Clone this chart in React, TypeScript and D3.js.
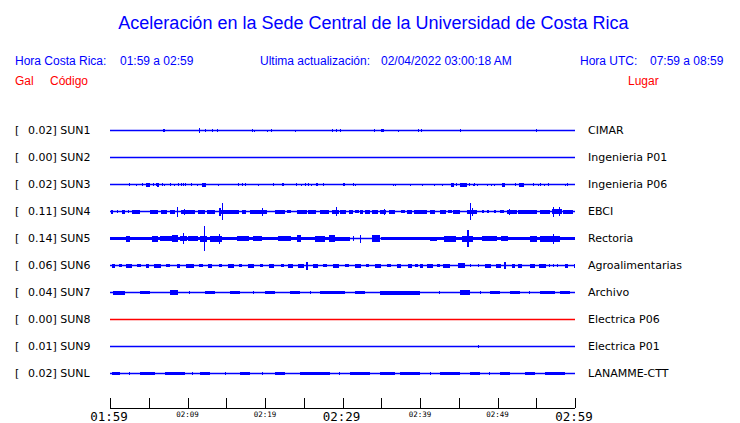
import React from "react";
import * as d3 from "d3";

const TITLE = "Aceleración en la Sede Central de la Universidad de Costa Rica";
const stations = ["SUN1", "SUN2", "SUN3", "SUN4", "SUN5", "SUN6", "SUN7", "SUN8", "SUN9", "SUNL"];
const galValues = ["0.02", "0.00", "0.02", "0.11", "0.14", "0.06", "0.04", "0.00", "0.01", "0.02"];
const places = ["CIMAR", "Ingenieria P01", "Ingenieria P06", "EBCI", "Rectoria", "Agroalimentarias", "Archivo", "Electrica P06", "Electrica P01", "LANAMME-CTT"];
const offline = ["SUN8"];
const tickLabels = ["01:59", "", "02:09", "", "02:19", "", "02:29", "", "02:39", "", "02:49", "", "02:59"];
const majorTicks = ["01:59", "02:29", "02:59"];

// events: [start minute, end minute, half amplitude]
const SUN1 = [[6.8,7.1,1.5],[11.5,11.6,2.5],[12.2,12.3,1.5],[13.2,13.3,1.5],[13.8,13.9,1.5],[18.3,18.4,1.5],[18.6,18.7,1],[20.2,20.3,1],[20.8,20.9,1.5],[23.9,24,1],[28.7,28.8,1.5],[29.2,29.3,1.5],[29.7,29.8,1.5],[34.1,34.2,1.5],[35.0,35.3,1.5],[37.1,37.2,1],[39.8,39.9,1.5],[40.1,40.3,1.5],[45.1,45.2,1.5],[55.0,55.1,1.5]];
const SUN2: number[][] = [];
const SUN3 = [[2.4,2.5,1.5],[3.4,3.5,1],[4.1,4.2,1.5],[4.7,5.2,2],[5.6,5.7,1.5],[5.9,6.0,1.5],[6.1,6.3,2],[6.7,6.8,1.5],[7.0,7.1,1],[7.7,7.8,1.5],[8.3,8.4,1],[8.8,8.9,1.5],[9.1,9.2,1.5],[9.4,9.5,1.5],[9.7,9.8,1.5],[10.4,10.5,1.5],[11.2,11.3,1],[11.9,12.4,2],[13.9,14,1],[16.5,16.6,1.5],[17.0,17.1,1.5],[17.4,17.5,1.5],[19.1,19.2,1],[21.0,21.1,1.5],[22.2,22.4,1.5],[24.0,24.1,1.5],[24.7,24.8,1],[25.1,25.2,1.5],[25.6,25.7,1.5],[25.9,26.0,1],[26.6,26.9,1.5],[27.5,27.6,1.5],[30.0,30.1,1.5],[30.2,30.3,1.5],[31.4,31.5,1.5],[31.6,31.7,1],[36.5,36.6,1],[36.8,36.9,1],[38.7,38.8,1],[40.3,40.4,1],[41.8,41.9,1],[42.8,42.9,1],[44.0,44.4,2],[44.7,44.8,1.5],[45.2,46.0,2],[46.3,46.4,1.5],[46.8,46.9,1],[47.0,47.1,1.5],[47.3,47.4,1],[48.6,48.7,1],[49.1,49.2,1],[49.5,49.6,1],[50.6,51.0,2],[52.2,52.3,1.5],[52.8,53.4,2],[54.6,54.7,1.5],[55.2,55.3,1],[55.5,55.6,1.5],[56.0,56.1,1],[56.5,56.6,1.5],[58.7,58.8,1],[59.0,59.1,1.5]];
const SUN4 = [[0.1,0.4,2],[0.9,1.0,1.5],[1.6,1.9,2],[2.3,2.5,1.5],[2.8,3.9,2],[5.2,6.2,2],[6.6,7.3,2],[7.8,8.4,2],[9.2,11.0,2],[9.5,9.7,3],[11.4,12.2,2],[12.5,13.5,2],[14.0,16.6,2],[14.1,14.3,4],[17.0,17.6,2],[18.1,20.2,2],[21.3,22.6,2],[22.8,23.4,1.5],[24.1,25.4,2],[25.6,26.6,2],[27.1,28.2,2],[28.6,29.5,2],[29.7,30.5,2],[30.9,31.4,2],[31.6,32.1,1.5],[32.3,32.7,2],[32.9,33.6,2],[33.8,34.6,2],[34.8,35.6,2],[36.0,36.8,2],[37.6,38.1,1.5],[38.3,39.0,2],[39.2,40.9,2],[41.3,41.9,2],[42.6,43.4,2],[43.6,44.1,1.5],[44.3,45.1,2],[46.0,47.3,2],[46.7,46.9,4],[48.0,48.3,1.5],[48.6,48.9,1.5],[49.5,49.8,1.5],[50.3,50.8,1.5],[51.2,52.5,2],[52.7,55.1,2],[55.5,56.8,2],[57.0,58.3,2.5],[58.5,59.8,2],[8.7,8.8,5],[14.5,14.6,8.5],[19.6,19.7,4],[29.1,29.2,4.5],[35.4,35.5,3],[46.5,46.6,8.5],[51.5,51.6,3],[57.2,57.3,5],[57.9,58.0,4.5]];
const SUN5 = [[0,29.6,1.6],[35.0,60,1.7],[2.0,2.6,3],[5.4,6.2,3],[6.45,7.95,2.5],[8.0,8.8,3.5],[9.0,9.9,2.5],[9.4,9.5,5.5],[10.1,11.4,2.5],[11.6,12.5,3],[12.1,12.2,12.5],[12.9,14.4,3],[14.0,14.2,5],[16.4,17.9,2.5],[18.5,19.6,2.5],[21.7,23.4,2.5],[24.1,24.7,3.5],[26.4,27.7,3],[28.2,29.0,3.5],[29.0,31.0,2],[31.4,31.5,2.5],[32.3,32.4,4],[33.8,34.8,3.5],[41.3,42.2,2],[43.1,44.7,3],[45.4,46.9,3],[46.1,46.3,8.5],[48.0,49.9,2.5],[50.5,51.4,2.5],[54.2,55.1,3],[55.5,58.1,3],[57.1,57.3,5]];
const SUN6 = [[0.2,0.6,2],[1.2,1.6,1.5],[2.0,2.8,2],[3.5,4.0,1.5],[4.6,5.0,2],[5.7,6.6,2],[7.2,7.8,1.5],[8.6,9.0,2],[9.8,10.8,2],[11.5,12.0,1.5],[12.6,13.2,2],[14.0,14.5,1.5],[15.2,16.0,2],[16.6,17.0,1.5],[17.8,18.6,2],[19.4,19.8,1.5],[20.5,21.2,2],[22.0,22.4,1.5],[23.0,23.6,2],[24.3,25.0,2],[25.3,25.5,4],[26.2,26.8,2],[27.5,28.0,1.5],[28.8,29.6,2],[30.3,30.8,1.5],[31.6,32.4,2],[33.0,33.4,1.5],[34.2,35.0,2],[35.8,36.2,1.5],[37.0,37.6,2],[38.4,39.0,2],[39.4,39.8,1.5],[40.0,40.4,2],[40.9,41.7,2],[42.2,42.6,1.5],[43.0,43.9,2],[44.9,45.8,2.5],[46.4,46.5,1.5],[47.5,47.6,1.5],[48.4,49.2,2],[49.8,50.4,2],[50.9,51.1,3.5],[51.9,52.2,2],[52.7,53.2,2],[54.2,54.8,2],[55.3,56.2,2],[56.6,56.7,1.5],[57.2,57.3,1.5],[57.7,57.8,1.5],[58.7,59.1,2],[59.9,60,2]];
const SUN7 = [[0.4,1.9,2],[3.9,5.2,1.5],[7.7,8.8,2.5],[10.2,10.3,1.5],[12.3,13.5,1.5],[15.5,16.8,1.5],[18.5,18.6,1.5],[20.0,21.3,1.5],[23.2,24.5,1.5],[25.8,25.9,1.5],[27.1,30.3,1.5],[31.6,32.9,1.5],[34.8,40.0,2],[42.5,42.6,1.5],[45.2,46.5,2.5],[47.8,47.9,1.5],[49.0,50.3,1.5],[51.6,52.9,1.5],[54.0,54.1,1.5],[55.5,57.4,1.5],[58.0,59.4,1.5]];
const SUN8: number[][] = [];
const SUN9 = [[47.5,47.6,1.5]];
const SUNL = [[0.3,1.3,1.5],[2.4,2.5,1.5],[3.9,5.8,1.5],[7.1,9.7,1.5],[10.6,10.7,1.5],[11.6,12.9,1.5],[14.8,14.9,1.5],[16.8,18.1,1.5],[19.6,19.7,1.5],[21.3,22.6,1.5],[24.5,28.4,1.5],[29.6,29.7,1.5],[31.0,33.5,1.5],[34.8,36.8,1.5],[37.4,40.0,1.5],[41.3,41.4,1.5],[42.6,45.2,1.5],[46.5,47.7,1.5],[48.9,49.0,1.5],[50.3,51.6,1.5],[53.5,54.8,1.5],[56.1,58.7,1.5]];
const traces = [SUN1, SUN2, SUN3, SUN4, SUN5, SUN6, SUN7, SUN8, SUN9, SUNL];

const BLUE = "#0000ff";
const RED = "#ff0000";
const SANS = "'Liberation Sans', Arial, sans-serif";
const DEJAVU = "'DejaVu Sans', sans-serif";
const MONO = "'DejaVu Sans Mono', monospace";

export default function App() {
  const W = 740, H = 423;
  const x = d3.scaleLinear().domain([0, 60]).range([110, 575]);
  const y = d3.scalePoint<string>().domain(stations).range([130, 373]);
  const amp = d3.scaleLinear().domain([0, 10]).range([0, 10]);
  const ticks = d3.range(0, 61, 5);
  const axisY = 408;

  return (
    <svg width={W} height={H} style={{ position: "absolute", left: 0, top: 0, background: "#fff" }}>
      <text x={373.5} y={29} textAnchor="middle" fontFamily={SANS} fontSize={18} fill={BLUE}>{TITLE}</text>
      <g fontFamily={SANS} fontSize={12} fill={BLUE}>
        <text x={15} y={64.5}>Hora Costa Rica:</text>
        <text x={120} y={64.5}>01:59 a 02:59</text>
        <text x={260} y={64.5}>Ultima actualización:</text>
        <text x={381} y={64.5}>02/04/2022 03:00:18 AM</text>
        <text x={580} y={64.5}>Hora UTC:</text>
        <text x={650} y={64.5}>07:59 a 08:59</text>
      </g>
      <g fontFamily={SANS} fontSize={12} fill={RED}>
        <text x={15} y={85}>Gal</text>
        <text x={50} y={85}>Código</text>
        <text x={628} y={85}>Lugar</text>
      </g>
      {stations.map((s, i) => {
        const cy = y(s) as number;
        const color = offline.includes(s) ? RED : BLUE;
        return (
          <g key={s}>
            <text x={15} y={cy + 4} fontFamily={DEJAVU} fontSize={11} fill="#000">[</text>
            <text x={28} y={cy + 4} fontFamily={DEJAVU} fontSize={11} fill="#000">{galValues[i] + "] " + s}</text>
            <text x={588} y={cy + 4} fontFamily={DEJAVU} fontSize={11} fill="#000">{places[i]}</text>
            <line x1={x(0)} x2={x(60)} y1={cy + 0.5} y2={cy + 0.5} stroke={color} strokeWidth={1.5} />
            <g shapeRendering="crispEdges">
              {traces[i].map((e, j) => {
                const x0 = x(e[0]);
                const w = Math.max(1, x(e[1]) - x0);
                const a = amp(e[2]);
                return <rect key={j} x={x0} y={cy + 0.5 - a} width={w} height={2 * a} fill={color} />;
              })}
            </g>
          </g>
        );
      })}
      <g>
        <line x1={x(0)} x2={x(60)} y1={axisY + 0.5} y2={axisY + 0.5} stroke="#000" strokeWidth={1} />
        {ticks.map((t, i) => (
          <g key={t}>
            <line x1={Math.round(x(t)) + 0.5} x2={Math.round(x(t)) + 0.5} y1={axisY - 10} y2={axisY} stroke="#000" strokeWidth={1} />
            {tickLabels[i] && (
              majorTicks.includes(tickLabels[i]) ? (
                <text x={x(t) - 1} y={420.5} textAnchor="middle" fontFamily={MONO} fontSize={12.5} fill="#000">{tickLabels[i]}</text>
              ) : (
                <text x={x(t)} y={417} textAnchor="middle" fontFamily={MONO} fontSize={7.5} fill="#000">{tickLabels[i]}</text>
              )
            )}
          </g>
        ))}
      </g>
    </svg>
  );
}
